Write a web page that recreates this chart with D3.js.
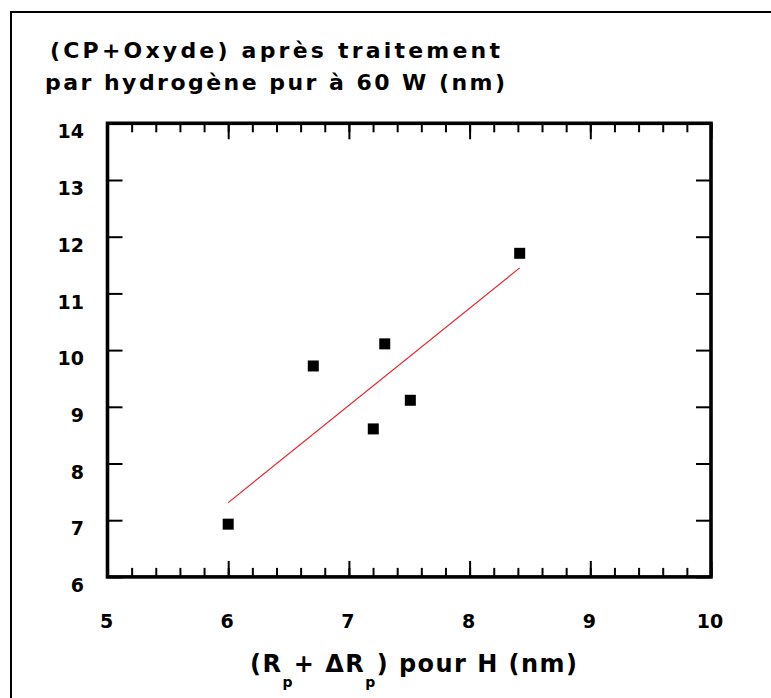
<!DOCTYPE html>
<html>
<head>
<meta charset="utf-8">
<script src="https://cdn.jsdelivr.net/npm/d3@7"></script>
<style>
  html, body { margin: 0; padding: 0; background: #fff; }
  svg { display: block; }
  text { font-family: "DejaVu Sans", Verdana, sans-serif; font-weight: bold; fill: #000; }
</style>
</head>
<body>
<svg id="chart" width="771" height="698"></svg>
<script>
// Measured points: (Rp + ΔRp) for H versus CP + oxide thickness after pure-hydrogen treatment
const rpH   = [6.0, 6.705, 7.297, 7.509, 7.202, 8.415];
const cpOx  = [6.93, 9.72, 10.11, 9.115, 8.61, 11.707];

// Linear fit endpoints
const fitX = [6.0, 8.415];
const fitY = [7.31, 11.45];

// Axis ticks
const xTicks = [5, 6, 7, 8, 9, 10];
const yTicks = [6, 7, 8, 9, 10, 11, 12, 13, 14];

const titleLines = ["(CP+Oxyde) après traitement", "par hydrogène pur à 60 W (nm)"];

const svg = d3.select("#chart");

// Page frame (only left and top edges fall inside the view)
svg.append("rect")
  .attr("x", 11).attr("y", 12)
  .attr("width", 900).attr("height", 900)
  .attr("fill", "none").attr("stroke", "#000").attr("stroke-width", 2);

const plot = { left: 107.5, right: 711, top: 123.3, bottom: 576.9 };

const x = d3.scaleLinear().domain([5, 10]).range([plot.left, plot.right]);
const y = d3.scaleLinear().domain([6, 14]).range([plot.bottom, plot.top]);

// Spread a text element's characters so it spans the given width
function fitText(sel, target) {
  const node = sel.node();
  const natural = node.getComputedTextLength();
  const n = node.textContent.length;
  if (n > 1) sel.style("letter-spacing", ((target - natural) / (n - 1)) + "px");
}

// Title
const t1 = svg.append("text").attr("x", 50).attr("y", 58)
  .style("font-size", "22px").text(titleLines[0]);
fitText(t1, 450);
const t2 = svg.append("text").attr("x", 45).attr("y", 90)
  .style("font-size", "22px").text(titleLines[1]);
fitText(t2, 460);

// Axes
function styleAxis(g) {
  g.select(".domain").remove();
  g.selectAll(".tick line").attr("stroke", "#000").attr("stroke-width", 2);
  g.selectAll("text").style("font-size", "19px").attr("fill", "#000")
    .style("font-family", "'DejaVu Sans', Verdana, sans-serif").style("font-weight", "bold");
}

// bottom: minor + major ticks with labels
svg.append("g").attr("transform", `translate(0,${plot.bottom})`)
  .call(d3.axisBottom(x).ticks(25).tickSize(-9).tickFormat(""))
  .call(styleAxis);
const xAxisG = svg.append("g").attr("transform", `translate(0,${plot.bottom})`)
  .call(d3.axisBottom(x).tickValues(xTicks).tickSize(-16).tickFormat(d3.format("d")))
  .call(styleAxis);
xAxisG.selectAll("text").attr("y", 51).attr("dy", 0).attr("x", -1.5);

// top: mirrored ticks
svg.append("g").attr("transform", `translate(0,${plot.top})`)
  .call(d3.axisTop(x).ticks(25).tickSize(-9).tickFormat(""))
  .call(styleAxis);
svg.append("g").attr("transform", `translate(0,${plot.top})`)
  .call(d3.axisTop(x).tickValues(xTicks).tickSize(-16).tickFormat(""))
  .call(styleAxis);

// left: major ticks with labels
const yAxisG = svg.append("g").attr("transform", `translate(${plot.left},0)`)
  .call(d3.axisLeft(y).tickValues(yTicks).tickSize(-15).tickFormat(d3.format("d")))
  .call(styleAxis);
yAxisG.selectAll("text").attr("x", -(plot.left - 84)).attr("y", 8).attr("dy", "0.35em");

// right: mirrored ticks
svg.append("g").attr("transform", `translate(${plot.right},0)`)
  .call(d3.axisRight(y).tickValues(yTicks).tickSize(-15).tickFormat(""))
  .call(styleAxis);

// Plot frame
svg.append("rect")
  .attr("x", plot.left).attr("y", plot.top)
  .attr("width", plot.right - plot.left).attr("height", plot.bottom - plot.top)
  .attr("fill", "none").attr("stroke", "#000").attr("stroke-width", 3.6);

// Fit line
svg.append("line")
  .attr("x1", x(fitX[0])).attr("y1", y(fitY[0]))
  .attr("x2", x(fitX[1])).attr("y2", y(fitY[1]))
  .attr("stroke", "#e8212b").attr("stroke-width", 1.2);

// Data markers
const side = 11;
svg.append("g").selectAll("rect")
  .data(rpH.map((v, i) => [v, cpOx[i]]))
  .join("rect")
  .attr("x", d => x(d[0]) - side / 2)
  .attr("y", d => y(d[1]) - side / 2)
  .attr("width", side).attr("height", side)
  .attr("fill", "#000");

// X axis title with subscripts
const xt = svg.append("text").attr("x", 250).attr("y", 672).style("font-size", "24px");
xt.append("tspan").text("(R");
xt.append("tspan").attr("dy", 15).style("font-size", "14px").text("p");
xt.append("tspan").attr("dy", -15).text("+ ΔR");
xt.append("tspan").attr("dy", 15).style("font-size", "14px").text("p");
xt.append("tspan").attr("dy", -15).text(") pour H (nm)");
fitText(xt, 327);
</script>
</body>
</html>
